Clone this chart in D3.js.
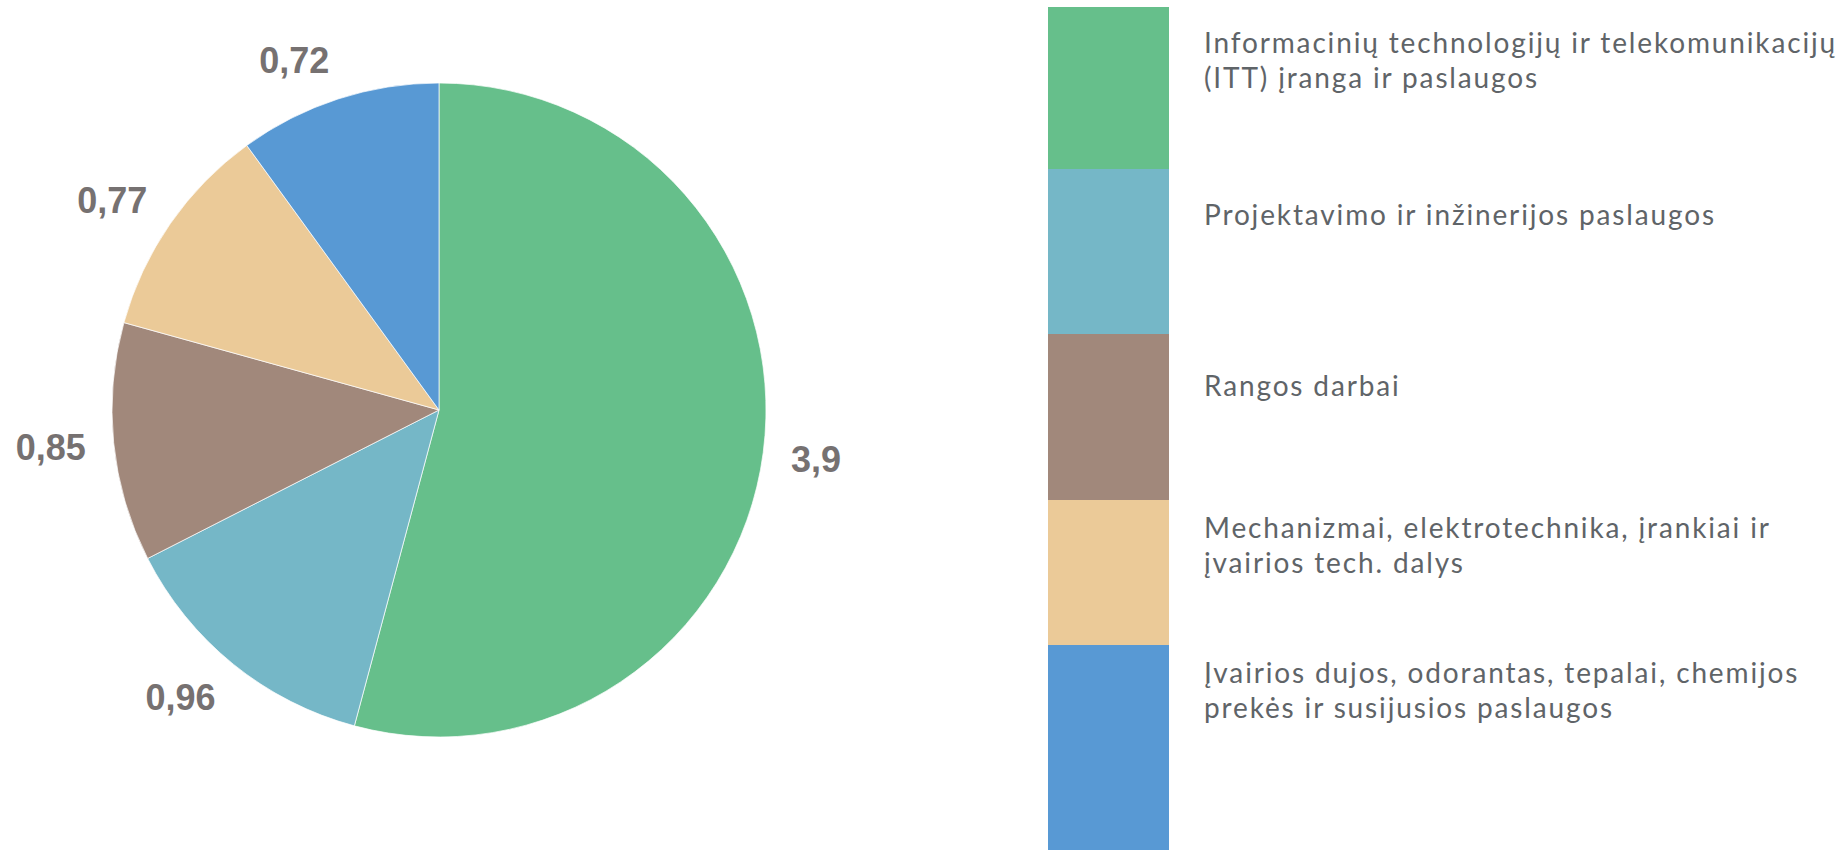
<!DOCTYPE html>
<html>
<head>
<meta charset="utf-8">
<script src="https://cdn.jsdelivr.net/npm/d3@7"></script>
<style>
  html, body { margin: 0; padding: 0; background: #fff; }
  svg { display: block; }
</style>
</head>
<body>
<div id="chart"></div>
<script>
const width = 1846;
const height = 850;

// data
const categories = [
  ["Informacinių technologijų ir telekomunikacijų", "(ITT) įranga ir paslaugos"],
  ["Projektavimo ir inžinerijos paslaugos"],
  ["Rangos darbai"],
  ["Mechanizmai, elektrotechnika, įrankiai ir", "įvairios tech. dalys"],
  ["Įvairios dujos, odorantas, tepalai, chemijos", "prekės ir susijusios paslaugos"]
];
const values = [3.9, 0.96, 0.85, 0.77, 0.72];
const valueLabels = ["3,9", "0,96", "0,85", "0,77", "0,72"];
const colors = ["#66bf8b", "#75b7c7", "#a1887b", "#ebca98", "#5899d4"];

// legend layout (row edges and first baseline offset)
const legendEdges = [7, 169, 334, 500, 645, 850];
const legendTextTop = [46, 56, 62, 38, 38];

const svg = d3.select("#chart")
  .append("svg")
  .attr("width", width)
  .attr("height", height);

const cx = 439, cy = 410, radius = 327;

const pie = d3.pie().sort(null).value(d => d);
const arc = d3.arc().innerRadius(0).outerRadius(radius);
const arcs = pie(values);

const g = svg.append("g").attr("transform", `translate(${cx},${cy})`);

g.selectAll("path")
  .data(arcs)
  .enter()
  .append("path")
  .attr("d", arc)
  .attr("fill", (d, i) => colors[i])
  .attr("stroke", "#fff")
  .attr("stroke-width", 0.7);

// outside labels, box pushed out past the rim
const labels = g.selectAll("text.val")
  .data(arcs)
  .enter()
  .append("text")
  .attr("class", "val")
  .attr("font-family", "'Liberation Sans', Arial, sans-serif")
  .attr("font-weight", "bold")
  .attr("font-size", 36)
  .attr("fill", "#767171")
  .attr("text-anchor", "middle")
  .text((d, i) => valueLabels[i]);

labels.each(function(d) {
  const w = this.getComputedTextLength();
  const h = 27;
  const a = (d.startAngle + d.endAngle) / 2;
  const r = radius + 28;
  const x = Math.sin(a) * r + Math.sign(Math.sin(a)) * w / 2;
  const y = -Math.cos(a) * (r + h / 2);
  d3.select(this).attr("x", x).attr("y", y + h / 2);
});

// legend
const legend = svg.append("g");

const rows = legend.selectAll("g")
  .data(categories)
  .enter()
  .append("g");

rows.append("rect")
  .attr("x", 1048)
  .attr("y", (d, i) => legendEdges[i])
  .attr("width", 121)
  .attr("height", (d, i) => legendEdges[i + 1] - legendEdges[i])
  .attr("fill", (d, i) => colors[i]);

const legendText = rows.append("text")
  .attr("x", 1204)
  .attr("y", (d, i) => legendEdges[i] + legendTextTop[i])
  .attr("font-family", "Lato, sans-serif")
  .attr("font-size", 28)
  .attr("fill", "#5f6468");

legendText.selectAll("tspan")
  .data(d => d)
  .enter()
  .append("tspan")
  .attr("x", 1204)
  .attr("dy", (d, i) => i === 0 ? 0 : 35)
  .text(d => d);

// widen the letters a bit so the long line spans like the original
const firstLine = legendText.selectAll("tspan").nodes()[0];
const w0 = firstLine.getComputedTextLength();
const n = categories[0][0].length;
legendText.attr("letter-spacing", Math.max(0, (633 - w0) / n));
</script>
</body>
</html>
